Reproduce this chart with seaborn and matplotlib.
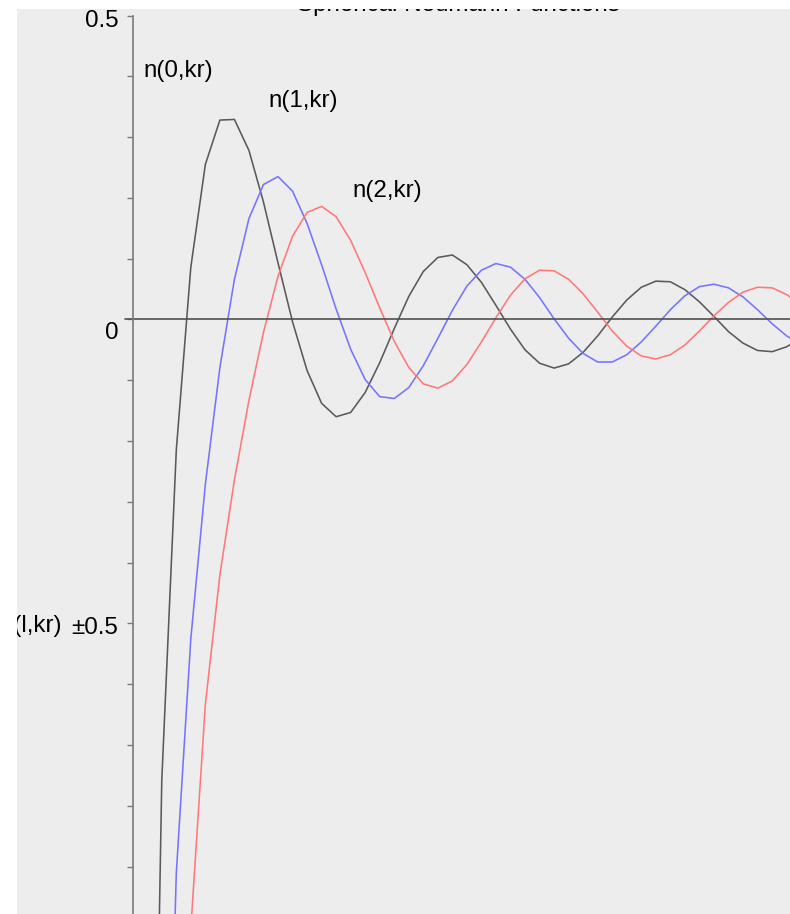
import matplotlib
matplotlib.use("Agg")
import matplotlib.pyplot as plt
import matplotlib.transforms as mtransforms
from matplotlib.patches import Rectangle
from matplotlib.ticker import MultipleLocator, NullFormatter
import seaborn as sns
import pandas as pd

# kr sample points
kr = [0.43, 0.86, 1.29, 1.72, 2.15, 2.58, 3.01, 3.44, 3.87, 4.30,
      4.73, 5.16, 5.59, 6.02, 6.45, 6.88, 7.31, 7.74, 8.17, 8.60,
      9.03, 9.46, 9.89, 10.32, 10.75, 11.18, 11.61, 12.04, 12.47, 12.90,
      13.33, 13.76, 14.19, 14.62, 15.05, 15.48, 15.91, 16.34, 16.77, 17.20,
      17.63, 18.06, 18.49, 18.92, 19.35, 19.78]

n0 = [-2.114, -0.759, -0.215, 0.086, 0.255, 0.328, 0.329, 0.278, 0.193, 0.093,
      -0.004, -0.084, -0.138, -0.160, -0.153, -0.120, -0.071, -0.015, 0.038, 0.079,
      0.102, 0.106, 0.090, 0.061, 0.023, -0.016, -0.050, -0.072, -0.080, -0.073,
      -0.054, -0.027, 0.004, 0.032, 0.053, 0.063, 0.062, 0.049, 0.029, 0.005,
      -0.020, -0.039, -0.051, -0.053, -0.045, -0.030]

n1 = [-5.886, -1.763, -0.911, -0.525, -0.271, -0.079, 0.066, 0.166, 0.222, 0.235,
      0.211, 0.158, 0.090, 0.017, -0.049, -0.099, -0.127, -0.130, -0.112, -0.076,
      -0.031, 0.015, 0.055, 0.081, 0.092, 0.086, 0.066, 0.036, 0.001, -0.031,
      -0.056, -0.070, -0.070, -0.058, -0.037, -0.011, 0.016, 0.039, 0.054, 0.058,
      0.052, 0.037, 0.016, -0.007, -0.027, -0.042]

n2 = [-38.95, -5.393, -1.905, -1.002, -0.633, -0.420, -0.264, -0.133, -0.021, 0.071,
      0.137, 0.176, 0.186, 0.169, 0.130, 0.077, 0.019, -0.036, -0.079, -0.106,
      -0.113, -0.101, -0.074, -0.037, 0.003, 0.040, 0.067, 0.081, 0.080, 0.066,
      0.042, 0.012, -0.019, -0.044, -0.060, -0.065, -0.058, -0.042, -0.019, 0.006,
      0.028, 0.045, 0.053, 0.052, 0.041, 0.024]

names = ["n(0,kr)", "n(1,kr)", "n(2,kr)"]
colors = ["#5a5a5a", "#7474ff", "#ff7878"]
label_pos = [(0.31, 0.409), (4.01, 0.359), (6.51, 0.211)]

ytick_vals = [0.5, 0, -0.5]
ytick_text = ["0.5", "0", "±0.5"]
ytick_drop = [11.7, 19.7, 10.7]   # pixel drop of each label baseline

sns.set_style("white")
plt.rcParams["font.family"] = ["Liberation Sans", "DejaVu Sans"]
plt.rcParams["text.color"] = "black"

bg = "#ededed"
fig = plt.figure(figsize=(7.9, 9.14), dpi=100, facecolor=bg)
ax = fig.add_axes([132.7 / 790, 0, 1 - 132.7 / 790, 1 - 15.5 / 914])
ax.set_facecolor(bg)

df = pd.DataFrame({"kr": kr, "n0": n0, "n1": n1, "n2": n2})
for col, c in zip(["n0", "n1", "n2"], colors):
    sns.lineplot(data=df, x="kr", y=col, ax=ax, color=c, linewidth=1.15,
                 sort=False, estimator=None)

ax.axhline(0, xmin=-0.012, xmax=1, color="#505050", linewidth=1.2, clip_on=False)

ax.set_xlim(0, 19.45)
ax.set_ylim(-0.978, 0.5)

for sp in ["top", "right", "bottom"]:
    ax.spines[sp].set_visible(False)
ax.spines["left"].set_color("#7a7a7a")
ax.spines["left"].set_linewidth(1.2)

ax.set_xticks([])
ax.yaxis.set_major_locator(MultipleLocator(0.1))
ax.yaxis.set_major_formatter(NullFormatter())
ax.tick_params(axis="y", left=True, direction="out", length=4.3, width=1.0,
               color="#7a7a7a")
ax.set_xlabel("")
ax.set_ylabel("")

fs = 17.4
for v, t, d in zip(ytick_vals, ytick_text, ytick_drop):
    tr = mtransforms.offset_copy(ax.get_yaxis_transform(), fig=fig,
                                 x=-14.4, y=-d, units="dots")
    ax.text(0, v, t, transform=tr, ha="right", va="baseline", fontsize=fs,
            color="black", clip_on=False)

ax.set_ylabel("n(l,kr)", rotation=0, fontsize=fs, ha="right", va="center",
              color="black")
ax.yaxis.set_label_coords((62 - 132.7) / 657.3, (-0.5 + 0.978) / 1.478 - 0.003)

for name, (px, py) in zip(names, label_pos):
    ax.text(px, py, name, ha="left", va="center", fontsize=fs, color="black")

fig.text(458 / 790, 1 - 11 / 914, "Spherical Neumann Functions",
         ha="center", va="baseline", fontsize=fs, color="black")

# white margins of the screenshot
fig.add_artist(Rectangle((0, 1 - 9 / 914), 1, 9 / 914, transform=fig.transFigure,
                         facecolor="white", edgecolor="none", zorder=10))
fig.add_artist(Rectangle((0, 0), 17 / 790, 1, transform=fig.transFigure,
                         facecolor="white", edgecolor="none", zorder=10))

fig.savefig("out.png", dpi=100, facecolor=bg)
